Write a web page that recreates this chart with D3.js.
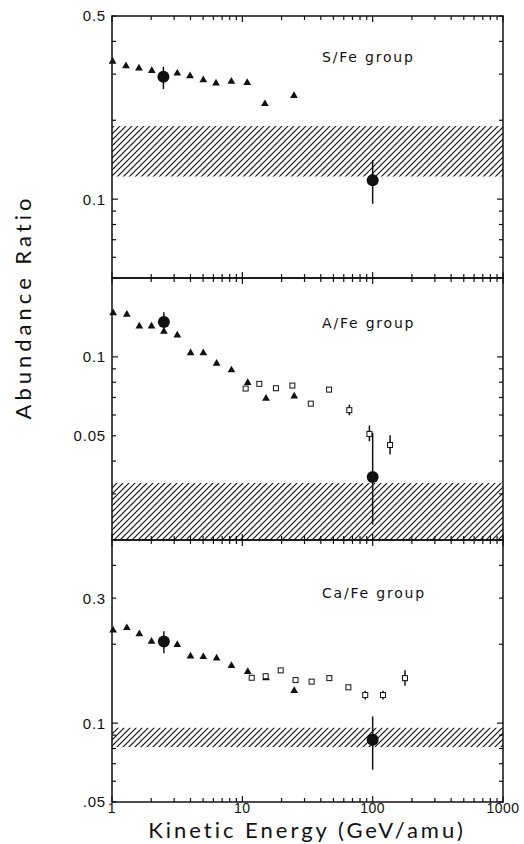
<!DOCTYPE html>
<html>
<head>
<meta charset="utf-8">
<script src="https://cdn.jsdelivr.net/npm/d3@7"></script>
<style>
  body { margin: 0; background: #fff; }
  svg text { fill: #111; }
</style>
</head>
<body>
<div id="chart"></div>
<script>
// Energy axis (GeV/amu)
const energyTicks = [1, 10, 100, 1000];

// S/Fe group: [energy, ratio]
const sfeTriangles = [[1.01, 0.335], [1.28, 0.322], [1.61, 0.316], [2.02, 0.309], [3.17, 0.302],
  [3.97, 0.295], [5.02, 0.285], [6.28, 0.277], [8.24, 0.281], [10.9, 0.278], [14.9, 0.231], [24.9, 0.248]];
// big circles: [energy, ratio, low, high]
const sfeCircles = [[2.48, 0.293, 0.263, 0.320], [100, 0.118, 0.096, 0.141]];
const sfeSquares = [];
const sfeBand = [0.122, 0.19];

// A/Fe group
const afeTriangles = [[1.02, 0.147], [1.30, 0.145], [1.62, 0.131], [2.01, 0.131], [2.5, 0.125], [3.17, 0.121],
  [4.01, 0.1035], [5.02, 0.1035], [6.35, 0.0943], [8.25, 0.089], [11.0, 0.0796], [15.2, 0.0693], [25.0, 0.0708]];
const afeCircles = [[2.5, 0.136, 0.1235, 0.148], [100, 0.0348, 0.0229, 0.0513]];
// open squares: [energy, ratio, low, high]
const afeSquares = [[10.6, 0.0757], [13.5, 0.0789], [18.1, 0.0759], [24.2, 0.0777], [33.5, 0.0663], [46.3, 0.075],
  [66.2, 0.0626, 0.0599, 0.0657], [94.4, 0.0508, 0.0476, 0.0547], [136, 0.0461, 0.0424, 0.0502]];
const afeBand = [0.02, 0.033];

// Ca/Fe group
const cafeTriangles = [[1.02, 0.226], [1.30, 0.231], [1.62, 0.219], [2.01, 0.205], [3.17, 0.199], [4.0, 0.180],
  [5.02, 0.179], [6.35, 0.177], [8.25, 0.1656], [11.0, 0.157], [15.2, 0.1485], [25.0, 0.133]];
const cafeCircles = [[2.5, 0.205, 0.185, 0.224], [100, 0.0864, 0.0664, 0.106]];
const cafeSquares = [[11.8, 0.149], [15.1, 0.151], [19.7, 0.159], [25.6, 0.146], [34.0, 0.144], [46.5, 0.1485],
  [65.1, 0.137], [87.7, 0.128, 0.123, 0.133], [120, 0.128, 0.123, 0.133], [177, 0.1485, 0.139, 0.159]];
const cafeBand = [0.081, 0.096];

// y domains and labelled ticks per panel
const panels = [
  { name: "S/Fe group", domain: [0.05, 0.5], labels: [[0.5, "0.5"], [0.1, "0.1"]],
    tri: sfeTriangles, sq: sfeSquares, circ: sfeCircles, band: sfeBand, labelY: 62 },
  { name: "A/Fe group", domain: [0.02, 0.2], labels: [[0.1, "0.1"], [0.05, "0.05"]],
    tri: afeTriangles, sq: afeSquares, circ: afeCircles, band: afeBand, labelY: 328 },
  { name: "Ca/Fe group", domain: [0.05, 0.5], labels: [[0.3, "0.3"], [0.1, "0.1"], [0.05, ".05"]],
    tri: cafeTriangles, sq: cafeSquares, circ: cafeCircles, band: cafeBand, labelY: 598 }
];

const W = 524, H = 844;
const plotLeft = 112, plotRight = 503, plotTop = 16, panelH = 262;

const svg = d3.select("#chart").append("svg")
  .attr("width", W).attr("height", H);

// hatch pattern for the bands
svg.append("defs").append("pattern")
  .attr("id", "hatch")
  .attr("patternUnits", "userSpaceOnUse")
  .attr("width", 6).attr("height", 6)
  .append("path")
    .attr("d", "M-1.5,1.5 l3,-3 M0,6 l6,-6 M4.5,7.5 l3,-3")
    .attr("stroke", "#111")
    .attr("stroke-width", 1.2);

const x = d3.scaleLog().domain([1, 1000]).range([plotLeft, plotRight]);

// all minor tick values on a log axis
const logTicks = (lo, hi) => {
  const out = [];
  for (let e = Math.floor(Math.log10(lo)) - 1; e <= Math.ceil(Math.log10(hi)); e++) {
    for (let m = 1; m < 10; m++) {
      const v = m * Math.pow(10, e);
      if (v >= lo * 0.999 && v <= hi * 1.001) out.push({ v, major: m === 1 });
    }
  }
  return out;
};

panels.forEach((p, i) => {
  const y0 = plotTop + i * panelH, y1 = y0 + panelH;
  const y = d3.scaleLog().domain(p.domain).range([y1, y0]);
  const g = svg.append("g");

  // hatched band
  g.append("rect")
    .attr("x", plotLeft).attr("width", plotRight - plotLeft)
    .attr("y", y(p.band[1])).attr("height", y(p.band[0]) - y(p.band[1]))
    .attr("fill", "url(#hatch)");

  // frame
  g.append("rect")
    .attr("x", plotLeft).attr("y", y0)
    .attr("width", plotRight - plotLeft).attr("height", panelH)
    .attr("fill", "none").attr("stroke", "#111").attr("stroke-width", 1.5);

  // x ticks, inward on top and bottom
  logTicks(1, 1000).forEach(t => {
    const len = t.major ? 6 : 4;
    g.append("line").attr("x1", x(t.v)).attr("x2", x(t.v))
      .attr("y1", y1).attr("y2", y1 - len).attr("stroke", "#111").attr("stroke-width", 1.2);
    g.append("line").attr("x1", x(t.v)).attr("x2", x(t.v))
      .attr("y1", y0).attr("y2", y0 + len).attr("stroke", "#111").attr("stroke-width", 1.2);
  });

  // y ticks, inward on left and right
  logTicks(p.domain[0], p.domain[1]).forEach(t => {
    const len = t.major ? 6 : 4;
    g.append("line").attr("x1", plotLeft).attr("x2", plotLeft + len)
      .attr("y1", y(t.v)).attr("y2", y(t.v)).attr("stroke", "#111").attr("stroke-width", 1.2);
    g.append("line").attr("x1", plotRight).attr("x2", plotRight - len)
      .attr("y1", y(t.v)).attr("y2", y(t.v)).attr("stroke", "#111").attr("stroke-width", 1.2);
  });

  // y labels
  g.selectAll(".ylab").data(p.labels).enter().append("text")
    .attr("x", plotLeft - 6).attr("y", d => y(d[0]))
    .attr("dy", "0.36em")
    .attr("text-anchor", "end")
    .style("font", "15px 'Liberation Sans', Arial, sans-serif")
    .style("letter-spacing", "0.8px")
    .text(d => d[1]);

  // group label
  g.append("text")
    .attr("x", 322).attr("y", p.labelY)
    .style("font", "14px 'DejaVu Sans', sans-serif")
    .style("letter-spacing", "1.8px")
    .text(p.name);

  // error bars
  const bars = p.circ.concat(p.sq.filter(d => d.length > 2));
  g.selectAll(".err").data(bars).enter().append("line")
    .attr("x1", d => x(d[0])).attr("x2", d => x(d[0]))
    .attr("y1", d => y(d[2])).attr("y2", d => y(d[3]))
    .attr("stroke", "#111").attr("stroke-width", 1.5);

  // triangles
  g.selectAll(".tri").data(p.tri).enter().append("path")
    .attr("transform", d => `translate(${x(d[0])},${y(d[1])})`)
    .attr("d", d3.symbol(d3.symbolTriangle, 26))
    .attr("fill", "#111");

  // open squares
  g.selectAll(".sq").data(p.sq).enter().append("rect")
    .attr("x", d => x(d[0]) - 2.5).attr("y", d => y(d[1]) - 2.5)
    .attr("width", 5).attr("height", 5)
    .attr("fill", "#fff").attr("stroke", "#111").attr("stroke-width", 1);

  // big circles
  g.selectAll(".circ").data(p.circ).enter().append("circle")
    .attr("cx", d => x(d[0])).attr("cy", d => y(d[1]))
    .attr("r", 6).attr("fill", "#111");
});

// x tick labels
svg.selectAll(".xlab").data(energyTicks).enter().append("text")
  .attr("x", d => x(d)).attr("y", 813)
  .attr("text-anchor", "middle")
  .style("font", "14px 'Liberation Sans', Arial, sans-serif")
  .style("letter-spacing", "0.5px")
  .text(d => d);

// axis titles
svg.append("text")
  .attr("x", 307).attr("y", 838)
  .attr("text-anchor", "middle")
  .style("font", "22px Lato, 'Liberation Sans', Arial, sans-serif")
  .style("letter-spacing", "3px")
  .text("Kinetic Energy (GeV/amu)");

svg.append("text")
  .attr("transform", "translate(31,307) rotate(-90)")
  .attr("text-anchor", "middle")
  .style("font", "22px Lato, 'Liberation Sans', Arial, sans-serif")
  .style("letter-spacing", "4px")
  .text("Abundance Ratio");
</script>
</body>
</html>
